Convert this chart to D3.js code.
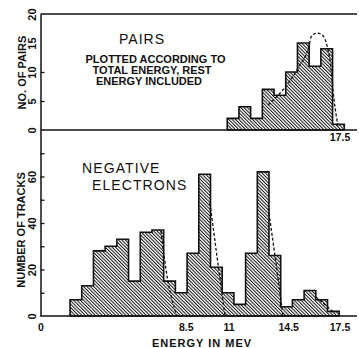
<!DOCTYPE html>
<html>
<head>
<meta charset="utf-8">
<script src="https://cdn.jsdelivr.net/npm/d3@7"></script>
<style>
  body { margin: 0; background: #fff; }
  text { font-family: "Liberation Sans", Arial, sans-serif; fill: #111; }
</style>
</head>
<body>
<div id="chart"></div>
<script>
// energy axis (MeV)
const energyTicks = [0, 8.5, 11, 14.5, 17.5];
const pairTicks = [0, 5, 10, 15, 20];
const trackTicks = [0, 10, 20, 30, 40, 50, 60, 70];

// histogram bins
const binWidth = 0.685;
const pairStart = 10.9;
const pairCounts = [2, 4, 2, 7, 6, 10, 15, 11, 14, 1];
const trackStart = 1.7;
const trackCounts = [7, 13, 28, 30, 33, 15, 36, 37, 15, 10, 27, 61, 21, 10, 5, 27, 62, 26, 4, 7, 11, 7, 2];

// dashed corrected curves [energy, count]
const pairCurve = [[13.29, 4.3], [15.04, 10.7], [15.71, 14.8], [15.8, 16.0], [15.98, 16.55], [16.17, 16.7],
    [16.39, 16.5], [16.62, 15.7], [16.74, 14.5], [16.91, 12.1], [17.15, 5.2], [17.38, 0.7]];
const trackCurves = [
    [[7.02, 36.6], [7.32, 19.8], [7.96, 0]],
    [[9.89, 48.6], [10.38, 21.2], [10.77, 0]],
    [[13.3, 46.4], [13.7, 25.6], [14.09, 4], [14.16, 0]],
    [[16.08, 8.3], [17.21, 1.2]]
];

const width = 359, height = 348;
const left = 40.5, right = 357;

const svg = d3.select("#chart")
    .append("svg")
    .attr("width", width)
    .attr("height", height);

svg.append("defs").append("pattern")
    .attr("id", "hatch")
    .attr("patternUnits", "userSpaceOnUse")
    .attr("width", 2.4)
    .attr("height", 2.4)
    .attr("patternTransform", "rotate(-45)")
    .append("line")
    .attr("x1", 0.5).attr("y1", 0)
    .attr("x2", 0.5).attr("y2", 2.4)
    .attr("stroke", "#111")
    .attr("stroke-width", 1);

const x = d3.scaleLinear()
    .domain([0, 17.5])
    .range([41, 340]);
const yPairs = d3.scaleLinear()
    .domain([0, 20])
    .range([130, 14]);
const yTracks = d3.scaleLinear()
    .domain([0, 80])
    .range([316, 130]);

function toSteps(start, counts) {
    const pts = counts.map((c, i) => [start + i * binWidth, c]);
    pts.push([start + counts.length * binWidth, counts[counts.length - 1]]);
    return pts;
}

function drawHist(start, counts, y) {
    svg.append("path")
        .datum(toSteps(start, counts))
        .attr("fill", "url(#hatch)")
        .attr("stroke", "#111")
        .attr("stroke-width", 1.6)
        .attr("d", d3.area()
            .curve(d3.curveStepAfter)
            .x(d => x(d[0]))
            .y0(y(0))
            .y1(d => y(d[1])));
}

function drawDashed(points, y) {
    svg.append("path")
        .datum(points)
        .attr("fill", "none")
        .attr("stroke", "#111")
        .attr("stroke-width", 1.3)
        .attr("stroke-dasharray", "3,2")
        .attr("d", d3.line()
            .curve(d3.curveMonotoneX)
            .x(d => x(d[0]))
            .y(d => y(d[1])));
}

function drawYAxis(y, values, labelEvery) {
    const g = svg.append("g")
        .attr("transform", `translate(${left},0)`)
        .call(d3.axisLeft(y)
            .tickValues(values)
            .tickSizeInner(-4)
            .tickSizeOuter(0)
            .tickFormat(d => d % labelEvery === 0 ? d : ""));
    g.select(".domain").attr("stroke", "#111").attr("stroke-width", 1.5);
    g.selectAll("line").attr("stroke", "#111").attr("stroke-width", 1.3);
    g.selectAll("text")
        .attr("transform", "rotate(-90)")
        .attr("x", 0)
        .attr("y", -5)
        .attr("dy", 0)
        .attr("text-anchor", "middle")
        .attr("font-size", 11)
        .attr("font-weight", "bold")
        .attr("fill", "#111");
    return g;
}

// histograms
drawHist(pairStart, pairCounts, yPairs);
drawHist(trackStart, trackCounts, yTracks);
drawDashed(pairCurve, yPairs);
trackCurves.forEach(c => drawDashed(c, yTracks));

// frame lines
[yPairs(20), yPairs(0), yTracks(0)].forEach(yy => {
    svg.append("line")
        .attr("x1", left).attr("x2", right)
        .attr("y1", yy).attr("y2", yy)
        .attr("stroke", "#111")
        .attr("stroke-width", 1.5);
});

const pairAxis = drawYAxis(yPairs, pairTicks, 5);
pairAxis.selectAll(".tick").filter(d => d === 0 || d === 15 || d === 20).select("line").remove();
const trackAxis = drawYAxis(yTracks, trackTicks, 20);
trackAxis.selectAll(".tick").filter(d => d === 0).select("line").remove();

// x tick labels
svg.append("g")
    .selectAll("text")
    .data(energyTicks)
    .join("text")
    .attr("x", d => x(d))
    .attr("y", 330.5)
    .attr("text-anchor", "middle")
    .attr("font-size", 10.5)
    .attr("font-weight", "bold")
    .text(d => d);

svg.append("text")
    .attr("x", x(17.5))
    .attr("y", 141)
    .attr("text-anchor", "middle")
    .attr("font-size", 10.5)
    .attr("font-weight", "bold")
    .text("17.5");

// axis titles
svg.append("text")
    .attr("transform", "translate(25.5,72.5) rotate(-90)")
    .attr("text-anchor", "middle")
    .attr("font-size", 11)
    .attr("font-weight", "bold")
    .text("NO. OF PAIRS");

svg.append("text")
    .attr("transform", "translate(25,230) rotate(-90)")
    .attr("text-anchor", "middle")
    .attr("font-size", 11)
    .attr("font-weight", "bold")
    .text("NUMBER OF TRACKS");

svg.append("text")
    .attr("x", 152)
    .attr("y", 346.5)
    .attr("font-size", 11)
    .attr("font-weight", "bold")
    .attr("letter-spacing", 1)
    .text("ENERGY IN MEV");

// panel labels
svg.append("text")
    .attr("x", 142)
    .attr("y", 44)
    .attr("text-anchor", "middle")
    .attr("font-size", 14)
    .attr("letter-spacing", 1)
    .text("PAIRS");

const note = [["PLOTTED ACCORDING TO", 155.5, 63.3], ["TOTAL ENERGY, REST", 152, 74], ["ENERGY INCLUDED", 149, 85.3]];
svg.append("g")
    .selectAll("text")
    .data(note)
    .join("text")
    .attr("x", d => d[1])
    .attr("y", d => d[2])
    .attr("text-anchor", "middle")
    .attr("font-size", 11)
    .attr("font-weight", "bold")
    .text(d => d[0]);

svg.append("text")
    .attr("x", 82)
    .attr("y", 173)
    .attr("font-size", 14)
    .attr("letter-spacing", 1.1)
    .text("NEGATIVE");

svg.append("text")
    .attr("x", 92)
    .attr("y", 190)
    .attr("font-size", 14)
    .attr("letter-spacing", 1.1)
    .text("ELECTRONS");
</script>
</body>
</html>
